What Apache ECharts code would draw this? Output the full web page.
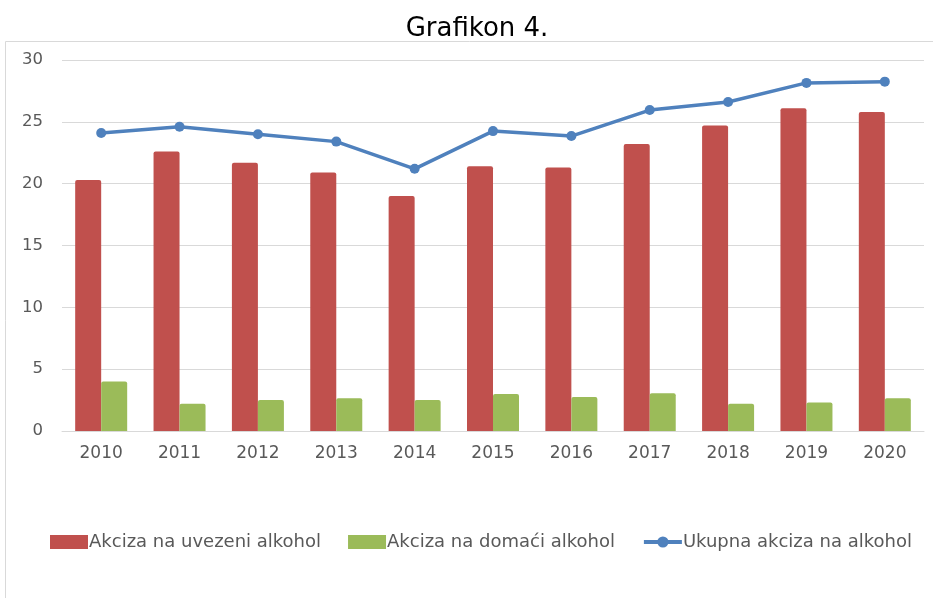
<!DOCTYPE html>
<html><head><meta charset="utf-8">
<script src="https://cdn.jsdelivr.net/npm/echarts@6/dist/echarts.min.js"></script>
<style>html,body{margin:0;padding:0;background:#fff}#c{width:933px;height:598px}</style>
</head><body><div id="c"></div>
<script>
const categories = ['2010','2011','2012','2013','2014','2015','2016','2017','2018','2019','2020'];
const uvezeni = [20.3, 22.6, 21.7, 20.9, 19.0, 21.4, 21.3, 23.2, 24.7, 26.1, 25.8];
const domaci = [4.0, 2.2, 2.5, 2.65, 2.5, 3.0, 2.75, 3.05, 2.2, 2.3, 2.65];
const ukupno = [24.1, 24.6, 24.0, 23.4, 21.2, 24.25, 23.85, 25.95, 26.6, 28.15, 28.25];
const seriesNames = ['Akciza na uvezeni alkohol', 'Akciza na domaći alkohol', 'Ukupna akciza na alkohol'];
const yTicks = [0, 5, 10, 15, 20, 25, 30];

const chart = echarts.init(document.getElementById('c'), null, {renderer: 'canvas'});
chart.setOption({
  animation: false,
  title: {
    text: 'Grafikon 4.', left: 472, top: 11, textAlign: 'center',
    textStyle: {fontFamily: 'DejaVu Sans', fontSize: 26, fontWeight: 'normal', color: '#000'}
  },
  graphic: [{
    type: 'rect', shape: {x: 5.5, y: 41.5, width: 940, height: 600},
    style: {fill: 'none', stroke: '#d9d9d9', lineWidth: 1}, silent: true, z: -1
  }],
  grid: {left: 62, right: 9, top: 60, bottom: 167, containLabel: false},
  legend: {
    bottom: 42, left: 45, itemGap: 27, itemWidth: 38, itemHeight: 14,
    textStyle: {fontFamily: 'DejaVu Sans', fontSize: 18, color: '#595959', padding: [0,0,0,-4]},
    data: [
      {name: seriesNames[0], icon: 'rect'},
      {name: seriesNames[1], icon: 'rect'},
      {name: seriesNames[2], lineStyle: {width: 4}}
    ]
  },
  xAxis: {
    type: 'category', data: categories,
    axisLine: {show: true, lineStyle: {color: '#d9d9d9'}},
    axisTick: {show: false},
    axisLabel: {fontFamily: 'DejaVu Sans', fontSize: 17, color: '#595959', margin: 14}
  },
  yAxis: {
    type: 'value', min: yTicks[0], max: yTicks[yTicks.length-1], interval: 5,
    axisLine: {show: false}, axisTick: {show: false},
    splitLine: {lineStyle: {color: '#d9d9d9', width: 1}},
    axisLabel: {fontFamily: 'DejaVu Sans', fontSize: 16.5, color: '#595959', margin: 19}
  },
  series: [
    {name: seriesNames[0], type: 'bar', data: uvezeni, barWidth: 26, barGap: '0%',
     itemStyle: {color: '#c0504d', borderRadius: [2,2,0,0]}},
    {name: seriesNames[1], type: 'bar', data: domaci, barWidth: 26,
     itemStyle: {color: '#9bbb59', borderRadius: [2,2,0,0]}},
    {name: seriesNames[2], type: 'line', data: ukupno, symbol: 'circle', symbolSize: 10,
     lineStyle: {color: '#4f81bd', width: 3.5}, itemStyle: {color: '#4f81bd'}}
  ]
});
</script></body></html>
